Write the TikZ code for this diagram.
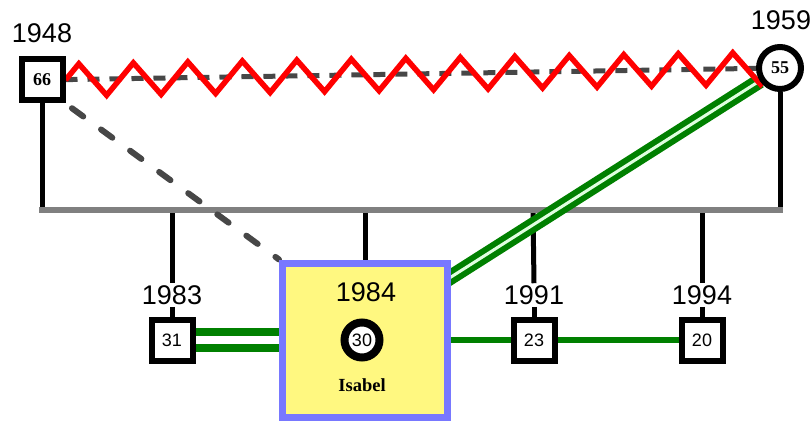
\documentclass[tikz,border=0pt]{standalone}
\usepackage{fontspec}
\setmainfont{Liberation Serif}
\setsansfont{Liberation Sans}
\usetikzlibrary{backgrounds,decorations.pathmorphing}
\newcommand{\mylinkgreen}{green!50!black}
\newcommand{\mybargray}{black!50}
\newcommand{\mydashgray}{black!72}
\newcommand{\myboxblue}{blue!53!white}
\newcommand{\myboxyellow}{yellow!50!white}

\begin{document}
\begin{tikzpicture}[x = 1pt, y = -1pt,
  yearlabel/.style = {font = \sffamily\fontsize{27}{29}\selectfont, inner sep = 2},
  malebox/.style = {draw, line width = 6, fill = white, minimum size = 41, inner sep = 0},
  femalering/.style = {draw, circle, line width = 6, fill = white, minimum size = 42, inner sep = 0},
  agesans/.style = {font = \sffamily\fontsize{18}{20}\selectfont},
  ageserif/.style = {font = \bfseries\fontsize{18}{20}\selectfont},
  kinline/.style = {line width = 5, black},
  twinlink/.style = {draw = \mylinkgreen, line width = 8, double = white, double distance = 8},
  twinthin/.style = {draw = \mylinkgreen, line width = 6, double = green!12!white, double distance = 3}]
\useasboundingbox (0,0) rectangle (812,425);
\node[yearlabel] (y1948) at (42,33) {1948};
\node[malebox, ageserif] (sq66) at (42,80) {66};
\node[yearlabel] (y1959) at (781,20) {1959};
\node[femalering, ageserif] (c55) at (780,68) {55};
\coordinate (sibL) at (42,210);
\coordinate (sibR) at (780,210);
\coordinate (drop1983) at (172,210);
\coordinate (drop1984) at (365,210);
\coordinate (drop1991) at (533,210);
\coordinate (drop1994) at (702,210);
\node[yearlabel] (y1983) at (172,295) {1983};
\node[malebox, agesans] (sq31) at (172,340) {31};
\node[draw = \myboxblue, fill = \myboxyellow, line width = 7, minimum width = 165, minimum height = 154] (isabel) at (365,340) {};
\node[yearlabel] (y1984) at (366,292) {1984};
\node[femalering, agesans, line width = 8, minimum size = 35] (c30) at (362,340) {30};
\node[font = \bfseries\fontsize{18.5}{20}\selectfont] (lblisabel) at (362,385) {Isabel};
\node[yearlabel] (y1991) at (534,295) {1991};
\node[malebox, agesans] (sq23) at (534,340) {23};
\node[yearlabel] (y1994) at (702,295) {1994};
\node[malebox, agesans] (sq20) at (702,340) {20};
\coordinate (twinstart) at (440,284);
\begin{scope}[on background layer]
\draw[kinline] (sq66) -- (sibL);
\draw[kinline] (c55) -- (sibR);
\draw[kinline] (drop1983) -- (y1983.north);
\draw[kinline] (drop1984) -- (isabel.north);
\draw[kinline] (drop1991) -- (y1991.north);
\draw[kinline] (drop1994) -- (y1994.north);
\draw[kinline] (y1983.south) -- (sq31.north);
\draw[kinline] (y1991.south) -- (sq23.north);
\draw[kinline] (y1994.south) -- (sq20.north);
\draw[line width = 6, \mybargray, line cap = rect] (sibL) -- (sibR);
\draw[line width = 6, \mydashgray, line cap = round, dash pattern = on 14 off 22, shorten < = 8] (sq66.south east) -- (isabel.north west);
\draw[twinlink] (sq31) -- (isabel);
\draw[line width = 6, \mylinkgreen] (isabel) -- (sq23) -- (sq20);
\draw[twinthin] (twinstart) -- (c55);
\draw[line width = 5, \mydashgray, dash pattern = on 12 off 10] (sq66) -- (c55);
\draw[line width = 5.5, red, line join = miter, decorate, decoration = {zigzag, segment length = 54.5, amplitude = 16}] (sq66.east) -- (c55.center);
\end{scope}
\end{tikzpicture}
\end{document}
